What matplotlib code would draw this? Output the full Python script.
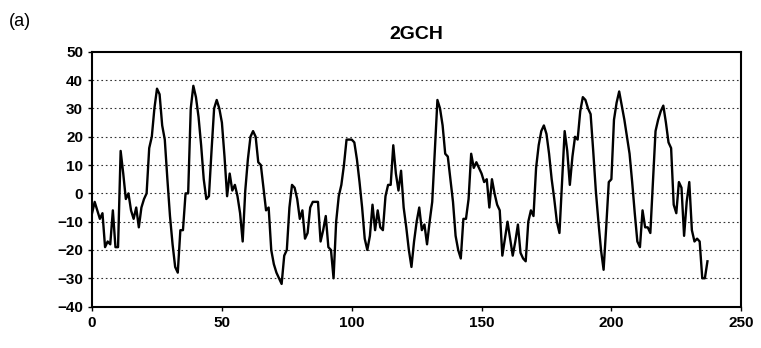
import matplotlib
matplotlib.use("Agg")
import matplotlib.pyplot as plt

# hydropathy-like profile of 2GCH (position 0..237)
values = [
    -7, -3, -6, -9, -7, -19, -17, -18, -6, -19,
    -19, 15, 7, -2, 0, -6, -9, -5, -12, -5,
    -2, 0, 16, 20, 30, 37, 35, 24, 19, 5,
    -8, -18, -26, -28, -13, -13, 0, 0, 30, 38,
    34, 27, 17, 5, -2, -1, 15, 30, 33, 30,
    25, 13, -1, 7, 1, 3, -1, -7, -17, 1,
    12, 20, 22, 20, 11, 10, 2, -6, -5, -20,
    -25, -28, -30, -32, -22, -20, -5, 3, 2, -2,
    -9, -6, -16, -14, -5, -3, -3, -3, -17, -13,
    -8, -19, -20, -30, -10, -1, 3, 10, 19, 19,
    19, 18, 12, 4, -5, -16, -20, -15, -4, -13,
    -6, -12, -13, -1, 3, 3, 17, 7, 1, 8,
    -5, -12, -20, -26, -17, -10, -5, -13, -11, -18,
    -10, -3, 15, 33, 30, 24, 14, 13, 5, -3,
    -15, -20, -23, -9, -9, -2, 14, 9, 11, 9,
    7, 4, 5, -5, 5, 0, -4, -6, -22, -16,
    -10, -16, -22, -17, -11, -21, -23, -24, -10, -6,
    -8, 9, 17, 22, 24, 21, 14, 5, -2, -10,
    -14, 4, 22, 15, 3, 13, 20, 19, 29, 34,
    33, 30, 28, 15, 1, -10, -20, -27, -12, 4,
    5, 26, 32, 36, 31, 26, 20, 14, 4, -7,
    -17, -19, -6, -12, -12, -14, 4, 22, 26, 29,
    31, 25, 18, 16, -4, -7, 4, 2, -15, -3,
    4, -13, -17, -16, -17, -30, -30, -24,
]
positions = list(range(len(values)))

x_ticks = [0, 50, 100, 150, 200, 250]
y_ticks = [-40, -30, -20, -10, 0, 10, 20, 30, 40, 50]

plt.rcParams['font.family'] = ['Liberation Sans', 'DejaVu Sans']

fig = plt.figure(figsize=(7.61, 3.48), dpi=100)
ax = fig.add_axes([0.121, 0.119, 0.853, 0.732])

ax.plot(positions, values, color='black', linewidth=1.7)

ax.set_xlim(0, 250)
ax.set_ylim(-40, 50)
ax.set_xticks(x_ticks)
ax.set_yticks(y_ticks)
ax.tick_params(labelsize=11, length=3, width=1, direction='out')
for lbl in ax.get_xticklabels() + ax.get_yticklabels():
    lbl.set_fontweight('bold')

for yv in y_ticks[1:-1]:
    ax.axhline(yv, color='#333333', linestyle=(0, (1.5, 2.5)), linewidth=0.8, zorder=0)

for sp in ax.spines.values():
    sp.set_linewidth(1.5)

ax.set_title('2GCH', fontsize=14, fontweight='bold', pad=9)
fig.text(0.012, 0.925, '(a)', fontsize=13)

fig.savefig('out.png', dpi=100)
